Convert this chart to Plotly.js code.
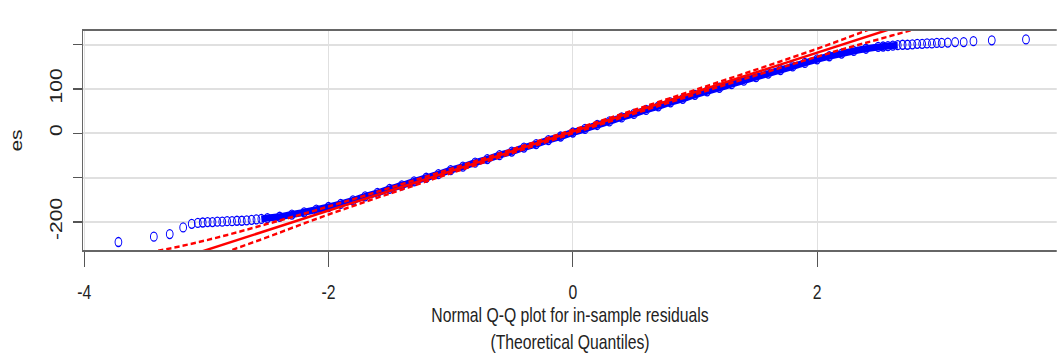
<!DOCTYPE html>
<html>
<head>
<meta charset="utf-8">
<script src="https://cdn.plot.ly/plotly-3.0.1.min.js"></script>
<style>
html,body{margin:0;padding:0;background:#fff;overflow:hidden;}
#wrap{width:1057px;height:358px;overflow:hidden;position:relative;background:#fff;}
#plot{width:1409px;height:358px;transform:scaleX(0.75);transform-origin:0 0;}
</style>
</head>
<body>
<div id="wrap"><div id="plot"></div></div>
<script>
// Sample quantiles (residuals) vs theoretical normal quantiles
const qqTheoretical = [
  -3.72, -3.43, -3.30, -3.19, -3.12,
  -3.07, -3.03, -2.99, -2.95, -2.91, -2.87, -2.83, -2.79, -2.75, -2.71, -2.67, -2.63, -2.59, -2.55,
  -2.5, -2.4, -2.3, -2.2, -2.1, -2.0, -1.9, -1.8, -1.7, -1.6, -1.5, -1.4, -1.3, -1.2, -1.1, -1.0,
  -0.9, -0.8, -0.7, -0.6, -0.5, -0.4, -0.3, -0.2, -0.1, 0.0, 0.1, 0.2, 0.3, 0.4, 0.5,
  0.6, 0.7, 0.8, 0.9, 1.0, 1.1, 1.2, 1.3, 1.4, 1.5, 1.6, 1.7, 1.8, 1.9, 2.0,
  2.1, 2.2, 2.3, 2.4, 2.5,
  2.54, 2.58, 2.62, 2.66, 2.70, 2.74, 2.78, 2.82, 2.86, 2.90, 2.94, 2.98, 3.02,
  3.07, 3.13, 3.20, 3.28, 3.43, 3.71
];
const qqSample = [
  -245, -233, -227, -212, -204,
  -202, -201, -200, -200, -199, -199, -198, -198, -197, -197, -196, -195, -194, -193,
  -191, -188, -183, -178, -172, -166, -159, -151, -142, -134, -125, -117, -108, -100, -92, -83,
  -75, -66, -58, -49, -41, -32, -24, -15, -7, 2, 10, 19, 27, 36, 44,
  53, 61, 70, 78, 87, 95, 103, 111, 119, 127, 135, 143, 151, 159, 167,
  174, 180, 186, 191, 195,
  196, 197, 198, 199, 200, 200, 201, 202, 202, 203, 203, 204, 204,
  205, 206, 206, 208, 210, 212
];
// Reference line (qqline) end points
const refLineX = [-4, 4];
const refLineY = [-352, 360];
// Confidence envelope
const envX = [-4, -3.5, -3, -2.5, -2, -1, 0, 1, 2, 2.5, 3, 3.5, 4];
const envUpper = [-287, -270, -241, -204, -165, -80, 8, 98, 191, 242, 293, 354, 425];
const envLower = [-417, -346, -285, -234, -183, -90, 0, 88, 173, 212, 249, 278, 295];
// Axis ticks
const xTickVals = [-4, -2, 0, 2, 4];
const xTickText = ['-4', '-2', '0', '2', '4'];
const yTickVals = [-200, -100, 0, 100, 200];
const yTickText = ['-200', '', '0', '100', ''];

// indices of the dense (solid-looking) part of the point cloud
const denseStart = qqTheoretical.indexOf(-2.55);
const denseEnd = qqTheoretical.indexOf(2.66);

const blue = '#0000ff';
const red = '#ff0000';

const traces = [
  {
    x: qqTheoretical.slice(denseStart, denseEnd + 1),
    y: qqSample.slice(denseStart, denseEnd + 1),
    type: 'scatter', mode: 'lines',
    line: {color: blue, width: 7, shape: 'spline'},
    hoverinfo: 'skip'
  },
  {
    x: qqTheoretical, y: qqSample,
    type: 'scatter', mode: 'markers',
    marker: {symbol: 'circle-open', size: 9, color: blue, line: {color: blue, width: 1.3}}
  },
  {
    x: envX, y: envUpper, type: 'scatter', mode: 'lines',
    line: {color: red, width: 2.5, dash: '7px,4px', shape: 'spline'}
  },
  {
    x: envX, y: envLower, type: 'scatter', mode: 'lines',
    line: {color: red, width: 2.5, dash: '7px,4px', shape: 'spline'}
  },
  {
    x: refLineX, y: refLineY, type: 'scatter', mode: 'lines',
    line: {color: red, width: 2.5}
  }
];

const axisFont = {family: 'Liberation Sans, Arial, sans-serif', size: 21, color: '#222'};

const layout = {
  width: 1409, height: 358,
  margin: {l: 111, r: 0, t: 31, b: 108, pad: 0},
  paper_bgcolor: '#ffffff', plot_bgcolor: '#ffffff',
  showlegend: false,
  font: axisFont,
  xaxis: {
    range: [-4.008, 3.962],
    tickmode: 'array', tickvals: xTickVals, ticktext: xTickText,
    ticks: 'outside', ticklen: 15, tickwidth: 1.5, tickcolor: '#555',
    ticklabelstandoff: 7,
    tickfont: axisFont,
    showline: true, linecolor: '#666', linewidth: 2, mirror: true,
    showgrid: true, gridcolor: '#e0e0e0', gridwidth: 1.5, zeroline: false,
    automargin: false,
    title: {text: 'Normal Q-Q plot for in-sample residuals<br>(Theoretical Quantiles)', font: axisFont, standoff: 0}
  },
  yaxis: {
    range: [-263, 231],
    tickmode: 'array', tickvals: yTickVals, ticktext: yTickText,
    ticks: 'outside', ticklen: 12, tickwidth: 1.5, tickcolor: '#555',
    tickangle: -90, ticklabelstandoff: 6,
    tickfont: axisFont,
    showline: true, linecolor: '#666', linewidth: 2, mirror: false,
    showgrid: true, gridcolor: '#e0e0e0', gridwidth: 2, zeroline: false,
    automargin: false,
    title: {text: 'es', font: axisFont, standoff: 28}
  }
};

Plotly.newPlot('plot', traces, layout, {displayModeBar: false, staticPlot: true});
</script>
</body>
</html>
